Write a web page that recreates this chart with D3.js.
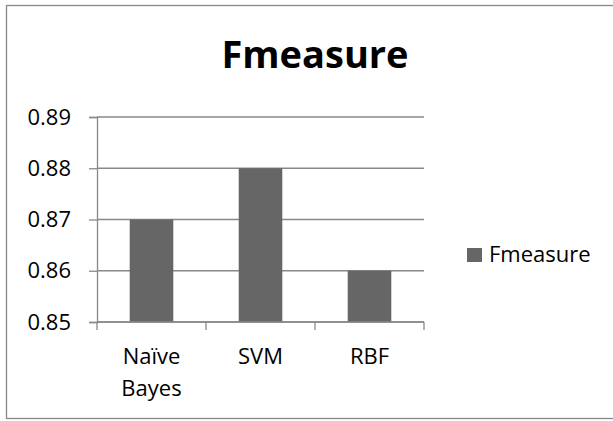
<!DOCTYPE html>
<html>
<head>
<meta charset="utf-8">
<script src="https://cdn.jsdelivr.net/npm/d3@7"></script>
<style>
  body { margin: 0; background: #fff; }
  text { font-family: "Open Sans", sans-serif; fill: #000; }
</style>
</head>
<body>
<svg id="svg" width="613" height="421"></svg>
<script>
var categories = [["Naïve", "Bayes"], ["SVM"], ["RBF"]];
var fmeasure = [0.87, 0.88, 0.86];
var yTicks = [0.85, 0.86, 0.87, 0.88, 0.89];
var seriesName = "Fmeasure";

var svg = d3.select("#svg");

var plot = { left: 97, right: 424, top: 117, bottom: 322 };

// chart border
svg.append("rect")
  .attr("x", 6.5).attr("y", 5.5)
  .attr("width", 608).attr("height", 413)
  .attr("fill", "none").attr("stroke", "#888").attr("stroke-width", 1.3);

svg.append("text")
  .attr("x", 315).attr("y", 68)
  .attr("text-anchor", "middle")
  .style("font-size", "38px").style("font-weight", "bold")
  .text("Fmeasure");

var yScale = d3.scaleLinear()
  .domain([0.85, 0.89])
  .range([plot.bottom, plot.top]);

var xScale = d3.scaleBand()
  .domain(categories.map(function (d) { return d.join(" "); }))
  .range([plot.left, plot.right])
  .paddingInner(0.6).paddingOuter(0.3);

var catBand = d3.scaleBand()
  .domain(xScale.domain())
  .range([plot.left, plot.right]);

// gridlines
svg.append("g")
  .selectAll("line")
  .data(yTicks)
  .enter()
  .append("line")
  .attr("x1", plot.left).attr("x2", plot.right)
  .attr("y1", function (d) { return yScale(d); })
  .attr("y2", function (d) { return yScale(d); })
  .attr("stroke", "#888").attr("stroke-width", 1.3);

// y axis
var yAxis = svg.append("g")
  .attr("transform", "translate(" + plot.left + ",0)")
  .call(d3.axisLeft(yScale).tickValues(yTicks).tickFormat(d3.format(".2f")).tickSize(8).tickPadding(18));
yAxis.select(".domain").attr("stroke", "#888").attr("stroke-width", 1.3);
yAxis.selectAll(".tick line").attr("stroke", "#888").attr("stroke-width", 1.3);
yAxis.selectAll("text").style("font-size", "22px").attr("fill", "#000");

// bars
svg.append("g")
  .selectAll("rect")
  .data(fmeasure)
  .enter()
  .append("rect")
  .attr("x", function (d, i) { return xScale(xScale.domain()[i]); })
  .attr("width", xScale.bandwidth())
  .attr("y", function (d) { return yScale(d); })
  .attr("height", function (d) { return plot.bottom - yScale(d); })
  .attr("fill", "#666");

// x axis
var xAxis = svg.append("g")
  .attr("transform", "translate(0," + plot.bottom + ")");
xAxis.append("line")
  .attr("x1", plot.left).attr("x2", plot.right)
  .attr("stroke", "#888").attr("stroke-width", 1.3);
var edges = [plot.left].concat(catBand.domain().map(function (d) { return catBand(d) + catBand.bandwidth(); }));
xAxis.selectAll(".xt")
  .data(edges)
  .enter()
  .append("line")
  .attr("x1", function (d) { return d; }).attr("x2", function (d) { return d; })
  .attr("y1", 0).attr("y2", 8)
  .attr("stroke", "#888").attr("stroke-width", 1.3);
var labels = xAxis.selectAll(".xl")
  .data(categories)
  .enter()
  .append("text")
  .attr("text-anchor", "middle")
  .attr("transform", function (d) {
    var k = d.join(" ");
    return "translate(" + (catBand(k) + catBand.bandwidth() / 2) + ",0)";
  })
  .style("font-size", "22px");
labels.selectAll("tspan")
  .data(function (d) { return d; })
  .enter()
  .append("tspan")
  .attr("x", 0)
  .attr("y", function (d, i) { return 42 + i * 32; })
  .text(function (d) { return d; });

// legend
var legend = svg.append("g").attr("transform", "translate(467,248)");
legend.append("rect")
  .attr("width", 15).attr("height", 14)
  .attr("fill", "#666");
legend.append("text")
  .attr("x", 22).attr("y", 14)
  .style("font-size", "22px")
  .text(seriesName);
</script>
</body>
</html>
